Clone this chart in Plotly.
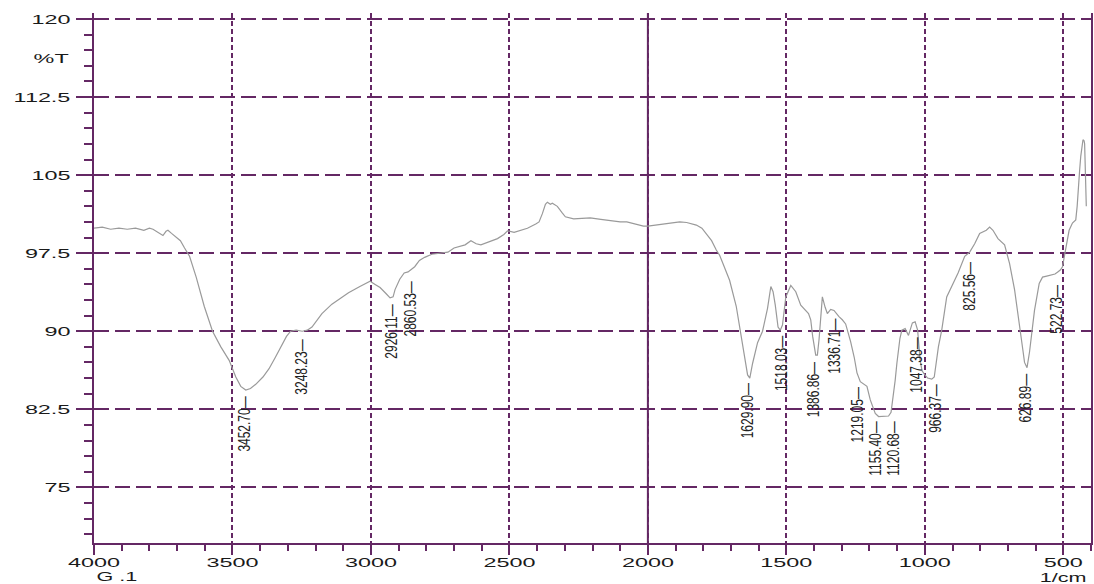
import plotly.graph_objects as go

# ---- spectrum (wavenumber in 1/cm, transmittance in %T) ----
wavenumber = [4000, 3970, 3940, 3910, 3880, 3850, 3820, 3800, 3787, 3770, 3751, 3740, 3733, 3720,
              3703, 3688, 3673, 3655, 3631, 3602, 3572, 3542, 3512, 3488, 3470, 3452, 3435, 3416,
              3390, 3368, 3345, 3326, 3305, 3290, 3270, 3248, 3230, 3213, 3177, 3141, 3110, 3081,
              3040, 3003, 2985, 2967, 2945, 2931, 2920, 2913, 2896, 2880, 2866, 2855, 2842, 2825,
              2806, 2780, 2758, 2722, 2700, 2686, 2660, 2639, 2620, 2603, 2575, 2543, 2520, 2507,
              2483, 2460, 2435, 2405, 2393, 2381, 2370, 2363, 2352, 2345, 2327, 2310, 2298, 2268,
              2240, 2208, 2170, 2136, 2100, 2076, 2040, 2016, 2000, 1970, 1944, 1915, 1885, 1860,
              1825, 1805, 1789, 1770, 1753, 1741, 1729, 1705, 1681, 1663, 1650, 1640, 1632, 1622,
              1604, 1586, 1568, 1556, 1548, 1540, 1530, 1522, 1514, 1502, 1484, 1466, 1448, 1430,
              1420, 1412, 1405, 1394, 1388, 1382, 1370, 1360, 1352, 1340, 1328, 1310, 1298, 1286,
              1268, 1255, 1245, 1233, 1220, 1209, 1197, 1179, 1167, 1150, 1131, 1122, 1115, 1107,
              1101, 1090, 1083, 1071, 1059, 1050, 1045, 1035, 1026, 1017, 1010, 1000, 990, 975,
              966, 951, 939, 921, 903, 880, 856, 838, 820, 802, 778, 766, 754, 736,
              712, 694, 676, 658, 646, 640, 631, 622, 604, 587, 575, 560, 544, 530,
              520, 510, 503, 497, 491, 485, 479, 467, 455, 450, 447, 441, 437, 432,
              429, 425, 423, 420, 417]
transmittance = [99.9, 100.0, 99.8, 99.9, 99.8, 99.9, 99.7, 99.9, 99.8, 99.5, 99.2, 99.6, 99.7, 99.4,
                 99.0, 98.7, 98.0, 97.2, 95.2, 92.4, 90.0, 88.5, 87.2, 85.6, 84.7, 84.35, 84.5, 84.9,
                 85.6, 86.4, 87.5, 88.5, 89.5, 90.0, 90.1, 90.0, 90.1, 90.4, 91.7, 92.6, 93.2, 93.7,
                 94.3, 94.8, 94.5, 94.2, 93.6, 93.2, 93.3, 94.0, 95.0, 95.6, 95.7, 95.9, 96.2, 96.8,
                 97.1, 97.4, 97.5, 97.6, 98.0, 98.1, 98.3, 98.7, 98.4, 98.3, 98.6, 98.9, 99.3, 99.65,
                 99.5, 99.7, 99.9, 100.3, 100.5, 101.3, 102.2, 102.4, 102.2, 102.3, 102.0, 101.4, 101.0, 100.8,
                 100.85, 100.9, 100.75, 100.6, 100.5, 100.5, 100.3, 100.1, 100.1, 100.2, 100.3, 100.4, 100.5, 100.45,
                 100.2, 99.9, 99.4, 98.7, 97.8, 97.3, 96.5, 94.9, 92.4, 89.5, 87.4, 85.8, 85.5, 86.9,
                 88.9, 90.0, 92.2, 94.3, 93.8, 92.5, 90.4, 90.1, 90.6, 93.3, 94.4, 93.8, 92.5, 92.0,
                 91.7, 91.1, 89.5, 87.7, 87.7, 89.2, 93.3, 92.3, 91.7, 92.1, 92.0, 91.4, 91.1, 90.7,
                 89.0, 87.5, 86.0, 85.15, 84.9, 84.7, 83.4, 82.1, 81.8, 81.85, 81.85, 82.2, 83.5, 85.3,
                 86.9, 89.3, 90.1, 90.25, 89.6, 90.5, 90.8, 90.9, 90.1, 87.2, 86.2, 85.8, 85.5, 85.4,
                 85.6, 88.5, 90.1, 93.3, 94.3, 95.6, 97.2, 97.6, 98.4, 99.4, 99.7, 100.0, 99.7, 98.9,
                 98.3, 96.5, 94.0, 90.8, 88.2, 87.0, 86.5, 88.0, 92.0, 94.6, 95.2, 95.3, 95.4, 95.5,
                 95.7, 95.9, 96.2, 97.0, 97.8, 98.8, 99.7, 100.4, 100.7, 102.0, 103.6, 105.5, 106.8, 108.0,
                 108.4, 108.3, 108.0, 105.0, 102.0]

# ---- peak labels ----
peak_labels = ["3452.70", "3248.23", "2926.11", "2860.53", "1629.90", "1518.03", "1386.86", "1336.71",
               "1219.05", "1155.40", "1120.68", "1047.38", "966.37", "825.56", "626.89", "522.73"]
peak_label_x = [3458, 3253, 2927, 2859, 1638, 1517, 1400, 1328,
                1244, 1179, 1114, 1029, 963, 838, 634, 527]
peak_label_top = [83.77, 89.32, 92.71, 94.92, 85.05, 89.64, 87.07, 91.24,
                  84.67, 81.47, 81.47, 89.5, 85.0, 96.8, 86.0, 94.6]

# ---- axes ticks ----
x_tick_vals = [4000, 3500, 3000, 2500, 2000, 1500, 1000, 500]
x_tick_text = ["4000", "3500", "3000", "2500", "2000", "1500", "1000", "500"]
y_tick_vals = [75, 82.5, 90, 97.5, 105, 112.5, 120]
y_tick_text = ["75", "82.5", "90", "97.5", "105", "112.5", "120"]

PURPLE = "#642864"
TICKFONT = dict(family="Liberation Sans, Arial, Helvetica, sans-serif", size=13, color="#1a1a1a")
UNITFONT = dict(family="Liberation Sans, Arial, Helvetica, sans-serif", size=12, color="#1a1a1a")
LABELFONT = dict(family="Liberation Sans, Arial, sans-serif", size=12, color="#222222")

fig = go.Figure()
fig.add_trace(go.Scatter(x=wavenumber, y=transmittance, mode="lines",
                         line=dict(color="#9a9a9a", width=1.2), hoverinfo="skip",
                         showlegend=False))

for txt, lx, ly in zip(peak_labels, peak_label_x, peak_label_top):
    fig.add_annotation(x=lx, y=ly, xref="x", yref="y", text=txt + "\u2014",
                       textangle=-90, showarrow=False, xanchor="center", yanchor="top",
                       font=LABELFONT, borderpad=0)

# solid line at 2000 (scale change)
fig.add_shape(type="line", xref="x", yref="paper", x0=2000, x1=2000, y0=0, y1=1,
              line=dict(color=PURPLE, width=2), layer="below")

fig.add_annotation(text="%T", xref="paper", yref="paper", x=-0.023, y=0.915,
                   xanchor="right", yanchor="middle", showarrow=False, font=TICKFONT, borderpad=0)
fig.add_annotation(text="G .1", xref="paper", yref="paper", x=0.001, y=-0.0495,
                   xanchor="left", yanchor="top", showarrow=False, font=UNITFONT, borderpad=0)
fig.add_annotation(text="1/cm", xref="paper", yref="paper", x=0.9965, y=-0.0515,
                   xanchor="right", yanchor="top", showarrow=False, font=UNITFONT, borderpad=0)

fig.update_layout(
    width=1094, height=584,
    margin=dict(l=94, r=1, t=13, b=41),
    paper_bgcolor="white", plot_bgcolor="white",
    showlegend=False,
    xaxis=dict(range=[4000, 400], tickvals=x_tick_vals, ticktext=x_tick_text,
               showline=True, linecolor=PURPLE, linewidth=2,
               ticks="outside", ticklen=10, tickwidth=2, tickcolor=PURPLE,
               ticklabelstandoff=-4,
               showgrid=True, gridcolor=PURPLE, gridwidth=2, griddash="5px,3px",
               zeroline=False, tickfont=TICKFONT,
               minor=dict(dtick=100, tick0=0, ticks="outside", ticklen=6, tickwidth=2,
                          tickcolor=PURPLE, showgrid=False)),
    yaxis=dict(range=[69.65, 120.58], tickvals=y_tick_vals, ticktext=y_tick_text,
               showline=True, linecolor=PURPLE, linewidth=2, mirror=True,
               ticks="outside", ticklen=16, tickwidth=2, tickcolor=PURPLE,
               ticklabelstandoff=3,
               showgrid=True, gridcolor=PURPLE, gridwidth=1.5, griddash="15px,6px",
               zeroline=False, tickfont=TICKFONT,
               minor=dict(dtick=1.5, tick0=75, ticks="outside", ticklen=8, tickwidth=2,
                          tickcolor=PURPLE, showgrid=False)),
)

# The reference image is horizontally stretched; widen the rendered text the same way.
post_js = """
(function(){
  var gd = document.getElementById('{plot_id}');
  if (!gd) return;
  var SX_TICK = 1.8, SX_LABEL = 1.4;
  function stretch(el, sx, mode){
    var r = el.getBoundingClientRect();
    if (!r || !r.width) return;
    var ax = mode === 'left' ? r.left : (mode === 'right' ? r.right : (r.left + r.right) / 2);
    var ay = (r.top + r.bottom) / 2;
    var svg = el.ownerSVGElement;
    var m = el.parentNode.getScreenCTM();
    if (!svg || !m) return;
    var pt = svg.createSVGPoint(); pt.x = ax; pt.y = ay;
    var p = pt.matrixTransform(m.inverse());
    var t = el.getAttribute('transform') || '';
    el.setAttribute('transform', 'translate(' + p.x + ',' + p.y + ') scale(' + sx + ',1) translate(' +
                    (-p.x) + ',' + (-p.y) + ') ' + t);
  }
  gd.querySelectorAll('.xtick text').forEach(function(el){ stretch(el, SX_TICK, 'center'); });
  gd.querySelectorAll('.ytick text').forEach(function(el){ stretch(el, SX_TICK, 'right'); });
  gd.querySelectorAll('g.annotation').forEach(function(el){
    var s = el.textContent;
    if (s === '%T' || s === '1/cm') stretch(el, SX_TICK, 'right');
    else if (s === 'G .1') stretch(el, SX_TICK, 'left');
    else stretch(el, SX_LABEL, 'center');
  });
})();
"""

fig.write_html("out.html", post_script=post_js)
